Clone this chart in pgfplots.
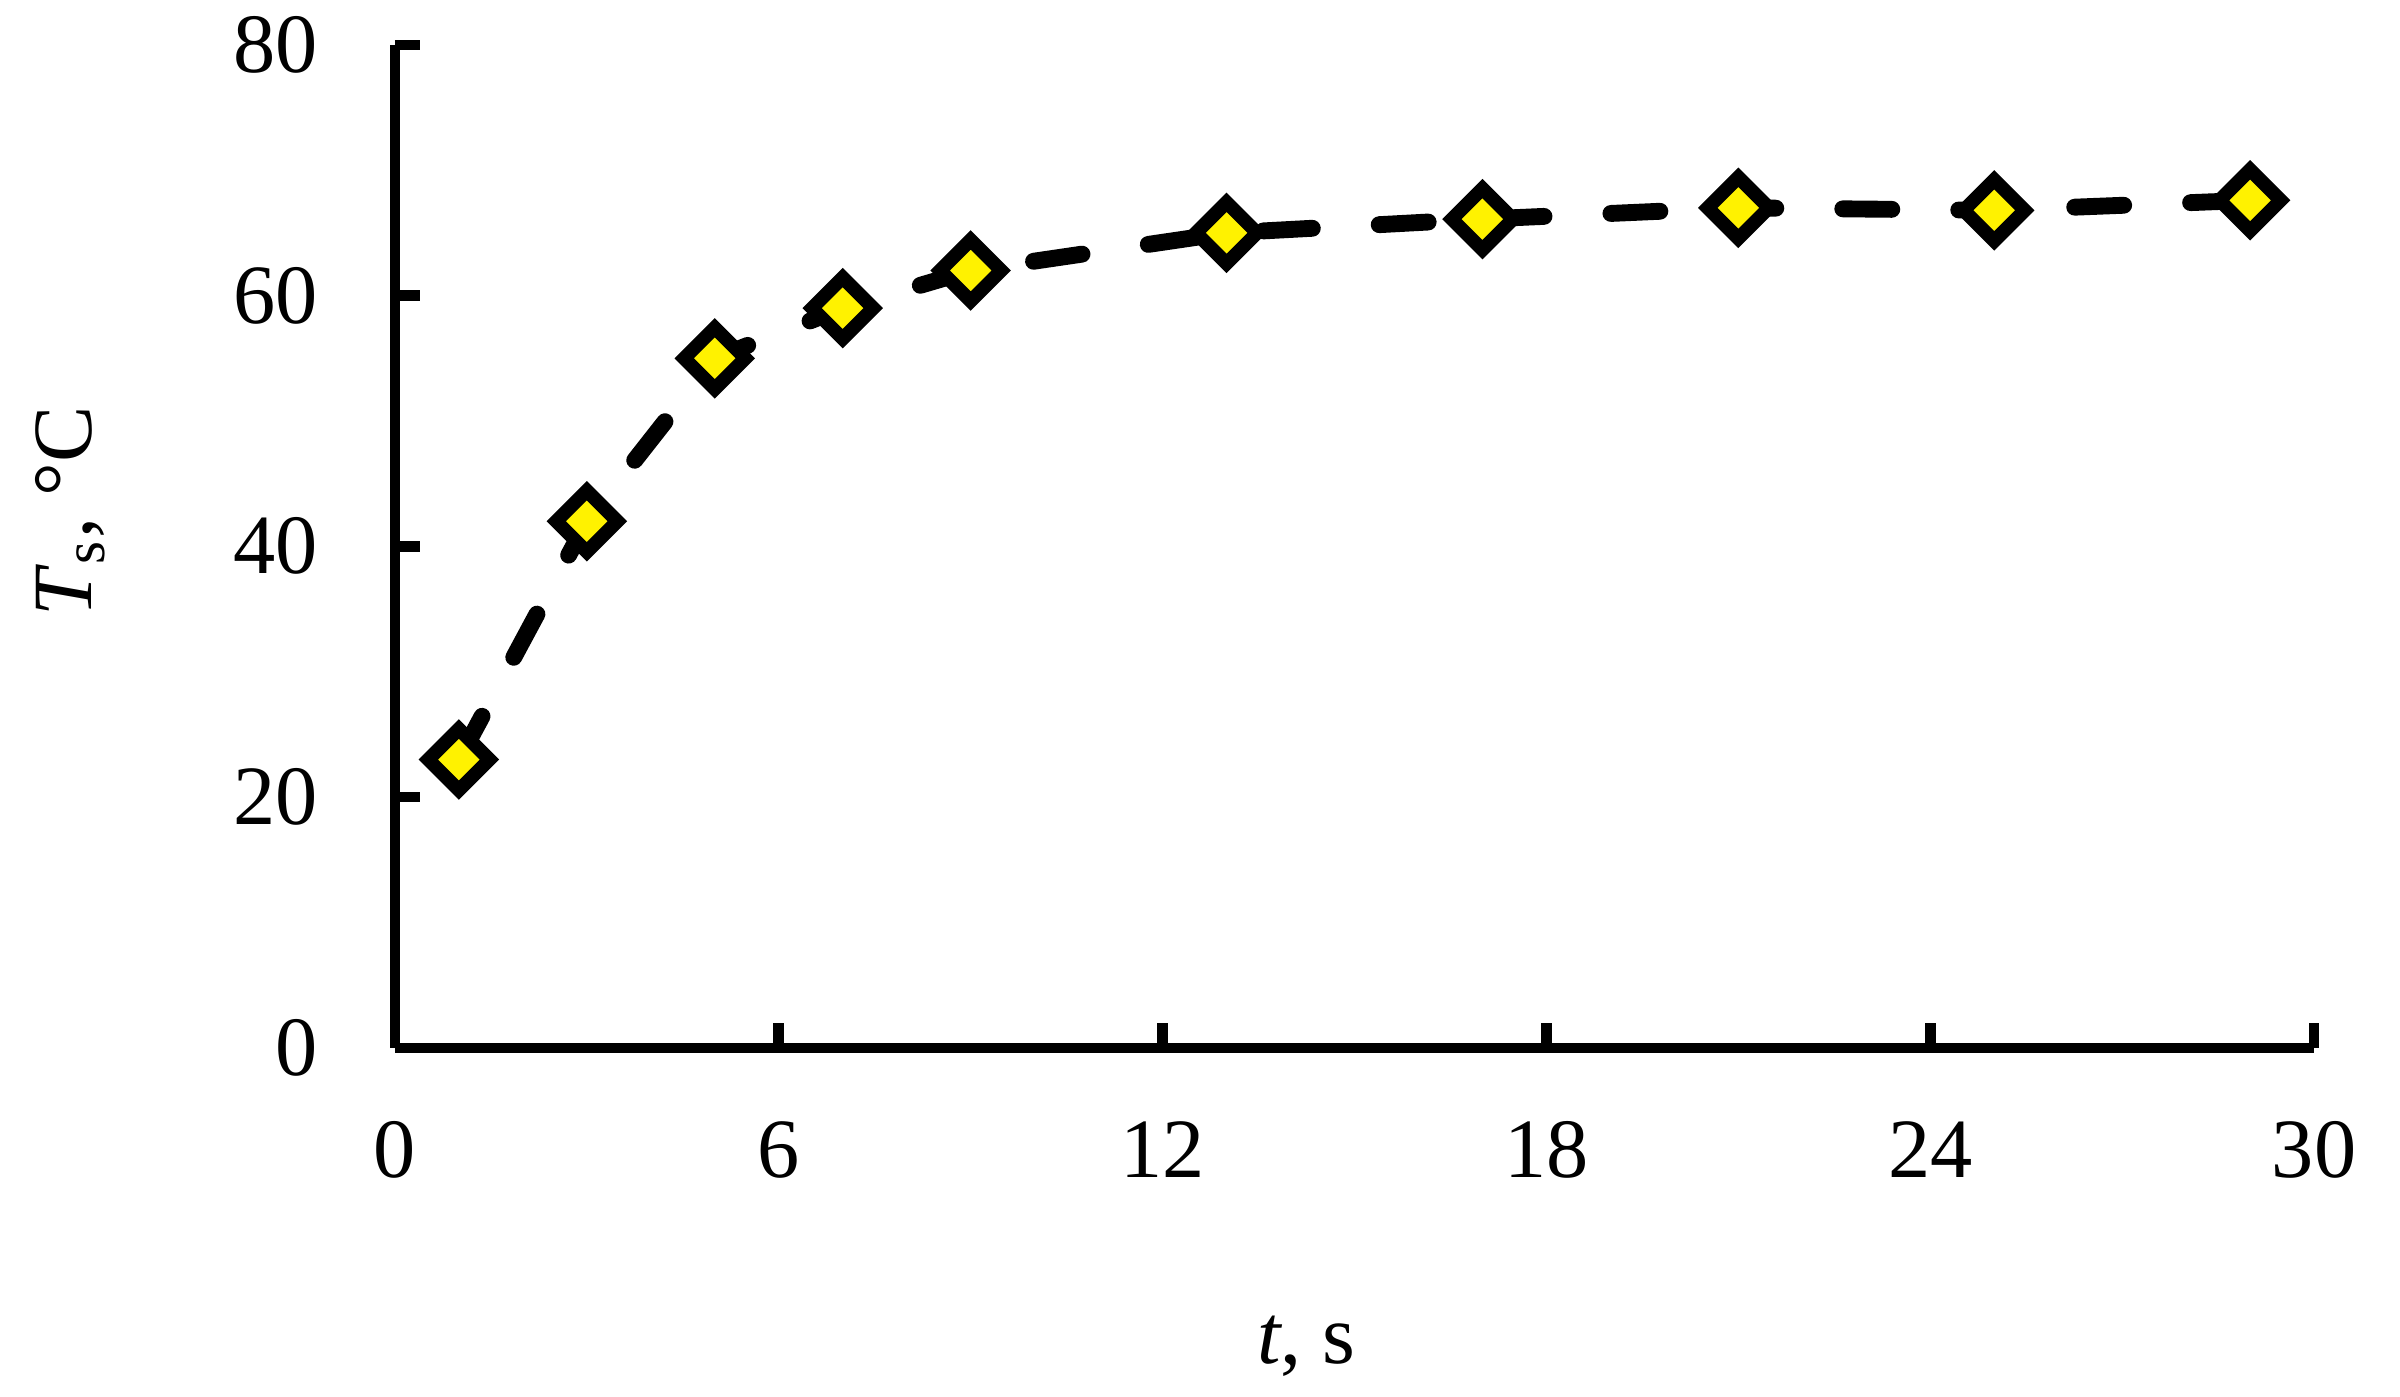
\documentclass[border=0pt]{standalone}
\usepackage{fontspec}
\setmainfont{Liberation Serif}
\usepackage{pgfplots}
\pgfplotsset{compat=1.18}
\usetikzlibrary{calc}

\begin{document}
\begin{tikzpicture}
\begin{axis}[
  name=ax,
  scale only axis,
  width=364pt, height=190.25pt,
  xmin=0, xmax=30, ymin=0, ymax=80,
  xtick={0,6,...,30}, ytick={0,20,...,80},
  axis x line*=bottom, axis y line*=left,
  axis line style={line width=2pt, -},
  tick align=inside,
  major tick length=4.7pt,
  tick style={line width=2pt, black},
  /pgf/number format/assume math mode=true,
  tick label style={font=\fontsize{16}{19}\selectfont, inner sep=0pt},
  xticklabel style={anchor=north, yshift=-13.7pt},
  yticklabel style={anchor=east, xshift=-14.4pt},
  label style={font=\fontsize{16}{19}\selectfont},
  xlabel={\textit{t}, s},
  xlabel style={at={(axis description cs:0.475,0)}, anchor=center, yshift=-56.5pt},
  ylabel={\textit{T}\textsubscript{s}, °C},
  ylabel style={at={(axis description cs:0,0.535)}, anchor=center, rotate=0, yshift=61.6pt},
  clip=false,
]
% surface temperature vs time
\addplot[black, line width=3.2pt, line cap=round,
  dash pattern=on 9.3pt off 12.7pt,
  mark=square*, mark size=4.1pt,
  mark options={solid, rotate=45, fill=yellow, draw=black, line width=2.6pt}]
coordinates {
  (1,23) (3,42) (5,55) (7,59) (9,62) (13,65) (17,66.1) (21,67) (25,66.8) (29,67.6)
};
\end{axis}
\pgfresetboundingbox
\path[use as bounding box] ($(ax.south west)+(-74.9pt,-66.2pt)$) rectangle ($(ax.north east)+(16.3pt,8.5pt)$);
\end{tikzpicture}
\end{document}
